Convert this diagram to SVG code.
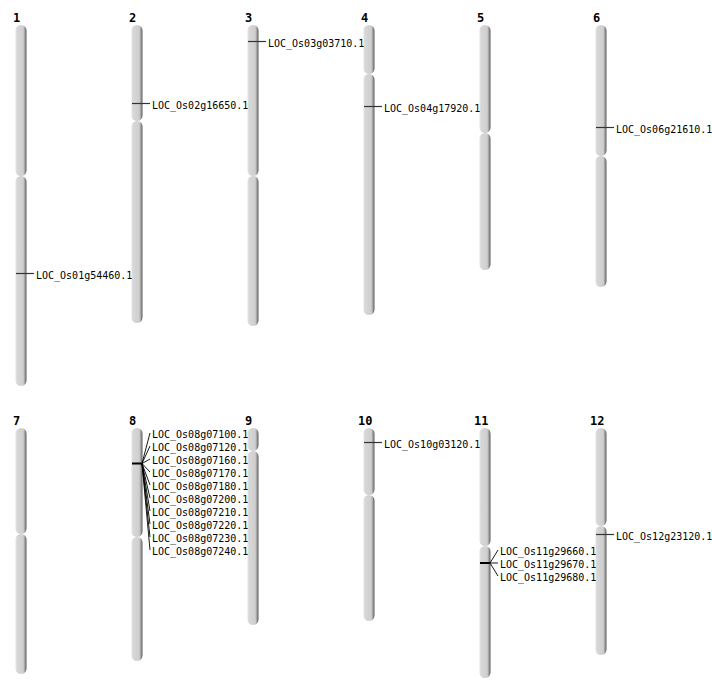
<svg xmlns="http://www.w3.org/2000/svg" width="712" height="700" viewBox="0 0 712 700">
<defs>
<linearGradient id="chrom" x1="0" y1="0" x2="1" y2="0">
<stop offset="0" stop-color="#e2e2e2"/>
<stop offset="0.2" stop-color="#d6d6d6"/>
<stop offset="0.7" stop-color="#cfcfcf"/>
<stop offset="0.82" stop-color="#a8a8a8"/>
<stop offset="1" stop-color="#5a5a5a"/>
</linearGradient>
</defs>
<style>
.seg{fill:url(#chrom);}
.num{font-family:"DejaVu Sans Mono","Liberation Mono",monospace;font-weight:bold;font-size:12px;fill:#000;}
.lab{font-family:"DejaVu Sans Mono","Liberation Mono",monospace;font-size:10px;fill:#000;}
.mk{stroke:#333;stroke-width:1.2;fill:none;}
.mkb{stroke:#000;stroke-width:2;fill:none;}
.ln{stroke:#000;stroke-width:0.9;fill:none;}
</style>
<rect width="712" height="700" fill="#fff"/>

<g id="chr1">
<text class="num" x="13" y="22">1</text>
<rect class="seg" x="15.5" y="25" width="11" height="151" rx="5.5"/>
<rect class="seg" x="15.5" y="176" width="11" height="210" rx="5.5"/>
</g>
<g id="chr2">
<text class="num" x="129" y="22">2</text>
<rect class="seg" x="131.5" y="25" width="11" height="96" rx="5.5"/>
<rect class="seg" x="131.5" y="121" width="11" height="202" rx="5.5"/>
</g>
<g id="chr3">
<text class="num" x="245" y="22">3</text>
<rect class="seg" x="247.5" y="25" width="11" height="151" rx="5.5"/>
<rect class="seg" x="247.5" y="176" width="11" height="150" rx="5.5"/>
</g>
<g id="chr4">
<text class="num" x="361" y="22">4</text>
<rect class="seg" x="363.5" y="25" width="11" height="49" rx="5.5"/>
<rect class="seg" x="363.5" y="74" width="11" height="241" rx="5.5"/>
</g>
<g id="chr5">
<text class="num" x="477" y="22">5</text>
<rect class="seg" x="479.5" y="25" width="11" height="108" rx="5.5"/>
<rect class="seg" x="479.5" y="133" width="11" height="137" rx="5.5"/>
</g>
<g id="chr6">
<text class="num" x="593" y="22">6</text>
<rect class="seg" x="595.5" y="25" width="11" height="131" rx="5.5"/>
<rect class="seg" x="595.5" y="156" width="11" height="131" rx="5.5"/>
</g>
<g id="chr7">
<text class="num" x="13" y="425">7</text>
<rect class="seg" x="15.5" y="428" width="11" height="106" rx="5.5"/>
<rect class="seg" x="15.5" y="534" width="11" height="140" rx="5.5"/>
</g>
<g id="chr8">
<text class="num" x="129" y="425">8</text>
<rect class="seg" x="131.5" y="428" width="11" height="109" rx="5.5"/>
<rect class="seg" x="131.5" y="537" width="11" height="124" rx="5.5"/>
</g>
<g id="chr9">
<text class="num" x="245" y="425">9</text>
<rect class="seg" x="247.5" y="428" width="11" height="23" rx="5.5"/>
<rect class="seg" x="247.5" y="451" width="11" height="174" rx="5.5"/>
</g>
<g id="chr10">
<text class="num" x="358" y="425">10</text>
<rect class="seg" x="363.5" y="428" width="11" height="67" rx="5.5"/>
<rect class="seg" x="363.5" y="495" width="11" height="126" rx="5.5"/>
</g>
<g id="chr11">
<text class="num" x="474" y="425">11</text>
<rect class="seg" x="479.5" y="428" width="11" height="118" rx="5.5"/>
<rect class="seg" x="479.5" y="546" width="11" height="132" rx="5.5"/>
</g>
<g id="chr12">
<text class="num" x="590" y="425">12</text>
<rect class="seg" x="595.5" y="428" width="11" height="98" rx="5.5"/>
<rect class="seg" x="595.5" y="526" width="11" height="129" rx="5.5"/>
</g>

<g id="connectors">
<line class="mk" x1="16" y1="273.5" x2="34" y2="273.5"/>
<line class="mk" x1="132" y1="103.5" x2="150" y2="103.5"/>
<line class="mk" x1="248" y1="41.5" x2="266" y2="41.5"/>
<line class="mk" x1="364" y1="106.5" x2="382" y2="106.5"/>
<line class="mk" x1="596" y1="127.5" x2="614" y2="127.5"/>
<line class="mk" x1="364" y1="442.5" x2="382" y2="442.5"/>
<line class="mk" x1="596" y1="534.5" x2="614" y2="534.5"/>
<line class="mkb" x1="132" y1="463.5" x2="142" y2="463.5"/>
<line class="ln" x1="142" y1="463.5" x2="150" y2="433"/>
<line class="ln" x1="142" y1="463.5" x2="150" y2="446"/>
<line class="ln" x1="142" y1="463.5" x2="150" y2="459"/>
<line class="ln" x1="142" y1="463.5" x2="150" y2="472"/>
<line class="ln" x1="142" y1="463.5" x2="150" y2="485"/>
<line class="ln" x1="142" y1="463.5" x2="150" y2="498"/>
<line class="ln" x1="142" y1="463.5" x2="150" y2="511"/>
<line class="ln" x1="142" y1="463.5" x2="150" y2="524"/>
<line class="ln" x1="142" y1="463.5" x2="150" y2="537"/>
<line class="ln" x1="142" y1="463.5" x2="150" y2="550"/>
<line class="mkb" x1="480" y1="563" x2="490" y2="563"/>
<line class="ln" x1="490" y1="563" x2="498" y2="550"/>
<line class="ln" x1="490" y1="563" x2="498" y2="563"/>
<line class="ln" x1="490" y1="563" x2="498" y2="576"/>
</g>

<g id="labels">
<text class="lab" x="36" y="278.5">LOC_Os01g54460.1</text>
<text class="lab" x="152" y="108.5">LOC_Os02g16650.1</text>
<text class="lab" x="268" y="46.5">LOC_Os03g03710.1</text>
<text class="lab" x="384" y="111.5">LOC_Os04g17920.1</text>
<text class="lab" x="616" y="132.5">LOC_Os06g21610.1</text>
<text class="lab" x="384" y="447.5">LOC_Os10g03120.1</text>
<text class="lab" x="616" y="539.5">LOC_Os12g23120.1</text>
<text class="lab" x="152" y="437.5">LOC_Os08g07100.1</text>
<text class="lab" x="152" y="450.5">LOC_Os08g07120.1</text>
<text class="lab" x="152" y="463.5">LOC_Os08g07160.1</text>
<text class="lab" x="152" y="476.5">LOC_Os08g07170.1</text>
<text class="lab" x="152" y="489.5">LOC_Os08g07180.1</text>
<text class="lab" x="152" y="502.5">LOC_Os08g07200.1</text>
<text class="lab" x="152" y="515.5">LOC_Os08g07210.1</text>
<text class="lab" x="152" y="528.5">LOC_Os08g07220.1</text>
<text class="lab" x="152" y="541.5">LOC_Os08g07230.1</text>
<text class="lab" x="152" y="554.5">LOC_Os08g07240.1</text>
<text class="lab" x="500" y="554.5">LOC_Os11g29660.1</text>
<text class="lab" x="500" y="567.5">LOC_Os11g29670.1</text>
<text class="lab" x="500" y="580.5">LOC_Os11g29680.1</text>
</g>
</svg>
